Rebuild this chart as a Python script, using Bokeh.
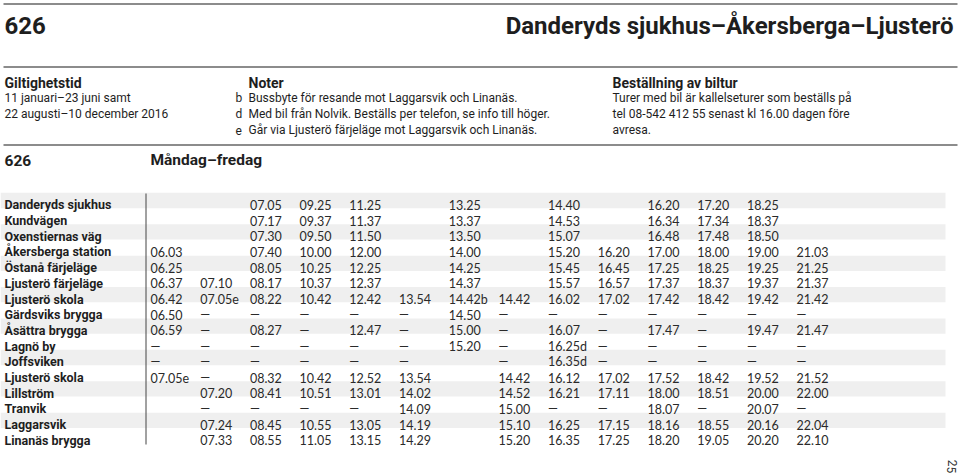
from bokeh.plotting import figure
from bokeh.models import Range1d, ColumnDataSource
from bokeh.core.properties import value
from bokeh.embed import file_html
from bokeh.resources import INLINE

# ---------------- data ----------------
route = "626"
route_title = "Danderyds sjukhus–Åkersberga–Ljusterö"
validity_head = "Giltighetstid"
validity = ["11 januari–23 juni samt", "22 augusti–10 december 2016"]
notes_head = "Noter"
note_keys = ["b", "d", "e"]
note_texts = [
    "Bussbyte för resande mot Laggarsvik och Linanäs.",
    "Med bil från Nolvik. Beställs per telefon, se info till höger.",
    "Går via Ljusterö färjeläge mot Laggarsvik och Linanäs.",
]
booking_head = "Beställning av biltur"
booking_lines = [
    "Turer med bil är kallelseturer som beställs på",
    "tel 08-542 412 55 senast kl 16.00 dagen före",
    "avresa.",
]
day_label = "Måndag–fredag"
page_number = "25"

stops = [
    "Danderyds sjukhus", "Kundvägen", "Oxenstiernas väg", "Åkersberga station",
    "Östanå färjeläge", "Ljusterö färjeläge", "Ljusterö skola", "Gärdsviks brygga",
    "Åsättra brygga", "Lagnö by", "Joffsviken", "Ljusterö skola", "Lillström",
    "Tranvik", "Laggarsvik", "Linanäs brygga",
]
D = "—"
row_danderyd = ["", "", "07.05", "09.25", "11.25", "", "13.25", "", "14.40", "", "16.20", "17.20", "18.25", ""]
row_kundvagen = ["", "", "07.17", "09.37", "11.37", "", "13.37", "", "14.53", "", "16.34", "17.34", "18.37", ""]
row_oxenstierna = ["", "", "07.30", "09.50", "11.50", "", "13.50", "", "15.07", "", "16.48", "17.48", "18.50", ""]
row_akersberga = ["06.03", "", "07.40", "10.00", "12.00", "", "14.00", "", "15.20", "16.20", "17.00", "18.00", "19.00", "21.03"]
row_ostana = ["06.25", "", "08.05", "10.25", "12.25", "", "14.25", "", "15.45", "16.45", "17.25", "18.25", "19.25", "21.25"]
row_ljf = ["06.37", "07.10", "08.17", "10.37", "12.37", "", "14.37", "", "15.57", "16.57", "17.37", "18.37", "19.37", "21.37"]
row_skola1 = ["06.42", "07.05e", "08.22", "10.42", "12.42", "13.54", "14.42b", "14.42", "16.02", "17.02", "17.42", "18.42", "19.42", "21.42"]
row_gardsvik = ["06.50", D, D, D, D, D, "14.50", D, D, D, D, D, D, D]
row_asattra = ["06.59", D, "08.27", D, "12.47", D, "15.00", D, "16.07", D, "17.47", D, "19.47", "21.47"]
row_lagno = [D, D, D, D, D, D, "15.20", D, "16.25d", D, D, D, D, D]
row_joffsviken = [D, D, D, D, D, D, "", D, "16.35d", D, D, D, D, D]
row_skola2 = ["07.05e", D, "08.32", "10.42", "12.52", "13.54", "", "14.42", "16.12", "17.02", "17.52", "18.42", "19.52", "21.52"]
row_lillstrom = ["", "07.20", "08.41", "10.51", "13.01", "14.02", "", "14.52", "16.21", "17.11", "18.00", "18.51", "20.00", "22.00"]
row_tranvik = ["", D, D, D, D, "14.09", "", "15.00", D, D, "18.07", D, "20.07", D]
row_laggarsvik = ["", "07.24", "08.45", "10.55", "13.05", "14.19", "", "15.10", "16.25", "17.15", "18.16", "18.55", "20.16", "22.04"]
row_linanas = ["", "07.33", "08.55", "11.05", "13.15", "14.29", "", "15.20", "16.35", "17.25", "18.20", "19.05", "20.20", "22.10"]
timetable = [row_danderyd, row_kundvagen, row_oxenstierna, row_akersberga, row_ostana,
             row_ljf, row_skola1, row_gardsvik, row_asattra, row_lagno, row_joffsviken,
             row_skola2, row_lillstrom, row_tranvik, row_laggarsvik, row_linanas]

# ---------------- layout ----------------
TXT = "#1e1e1e"
RULE = "#8c8c8c"
STRIPE = "#efefef"
HEAD_FONT = value("Roboto")
REG_FONT = value("Roboto")
TIME_FONT = value("Lato")

W, H = 960, 475
LEFT = 4
row_top = 200.0
row_h = 15.7
col_x0 = 150.0
col_dx = 49.7

p = figure(width=W, height=H, x_range=Range1d(0, W), y_range=Range1d(H, 0),
           output_backend="svg", toolbar_location=None,
           x_axis_location=None, y_axis_location=None, min_border=0)
p.min_border_left = p.min_border_right = p.min_border_top = p.min_border_bottom = 0
p.outline_line_color = None
p.xgrid.visible = False
p.ygrid.visible = False
p.background_fill_color = "white"
p.border_fill_color = "white"

# horizontal rules
rule_y = [3.5, 66.5, 144.5]
p.segment(x0=[3] * 3, y0=rule_y, x1=[957] * 3, y1=rule_y, line_color=RULE, line_width=2)

def txt(x, y, t, font, size, bold=False, align="left", color=TXT, angle=0, baseline="alphabetic"):
    p.text(x=[x], y=[y], text=[t], text_font=font, text_font_size=size,
           text_font_style="bold" if bold else "normal", text_align=align,
           text_baseline=baseline, text_color=color, angle=angle)

# title
txt(LEFT, 25, route, HEAD_FONT, "24px", bold=True)
txt(953, 25, route_title, HEAD_FONT, "24px", bold=True, align="right")

# info block
BODY = "12px"
txt(LEFT, 82, validity_head, HEAD_FONT, "14px", bold=True)
for i, line in enumerate(validity):
    txt(LEFT, 97.5 + i * 16, line, REG_FONT, BODY)
txt(248, 82, notes_head, HEAD_FONT, "14px", bold=True)
for i, (k, t) in enumerate(zip(note_keys, note_texts)):
    txt(235, 97.5 + i * 16, k, REG_FONT, BODY)
    txt(248, 97.5 + i * 16, t, REG_FONT, BODY)
txt(612, 82, booking_head, HEAD_FONT, "14px", bold=True)
for i, line in enumerate(booking_lines):
    txt(612, 97.5 + i * 16, line, REG_FONT, BODY)

txt(LEFT, 159.5, route, HEAD_FONT, "15.5px", bold=True)
txt(150, 159.5, day_label, HEAD_FONT, "15.5px", bold=True)

# stripes
n = len(stops)
stripe_rows = [i for i in range(n) if i % 2 == 0]
p.quad(left=[0] * len(stripe_rows), right=[945] * len(stripe_rows),
       top=[row_top - row_h / 2 + 0.2 + i * row_h for i in stripe_rows],
       bottom=[row_top + row_h / 2 - 0.2 + i * row_h for i in stripe_rows],
       fill_color=STRIPE, line_color=None)

# vertical separator
p.segment(x0=[145.5], y0=[193], x1=[145.5], y1=[444], line_color="#444444", line_width=1)

# stop names
p.text(x=[LEFT] * n, y=[row_top + 4.3 + i * row_h for i in range(n)], text=stops,
       text_font=HEAD_FONT, text_font_size="12.5px", text_font_style="bold",
       text_baseline="alphabetic", text_color=TXT)

# times
xs, ys, ts = [], [], []
for i, row in enumerate(timetable):
    for j, t in enumerate(row):
        if t:
            xs.append(col_x0 + j * col_dx)
            ys.append(row_top + 4.3 + i * row_h)
            ts.append(t)
src = ColumnDataSource(dict(x=xs, y=ys, text=ts))
p.text(x="x", y="y", text="text", source=src, text_font=TIME_FONT, text_font_size="12.5px",
       text_baseline="alphabetic", text_color="#2a2a2a")

# page number (rotated)
txt(951.5, 466, page_number, REG_FONT, "12px", angle=-1.5708, align="center", baseline="middle",
    color="#333333")

open("out.html", "w").write(file_html(p, INLINE))
